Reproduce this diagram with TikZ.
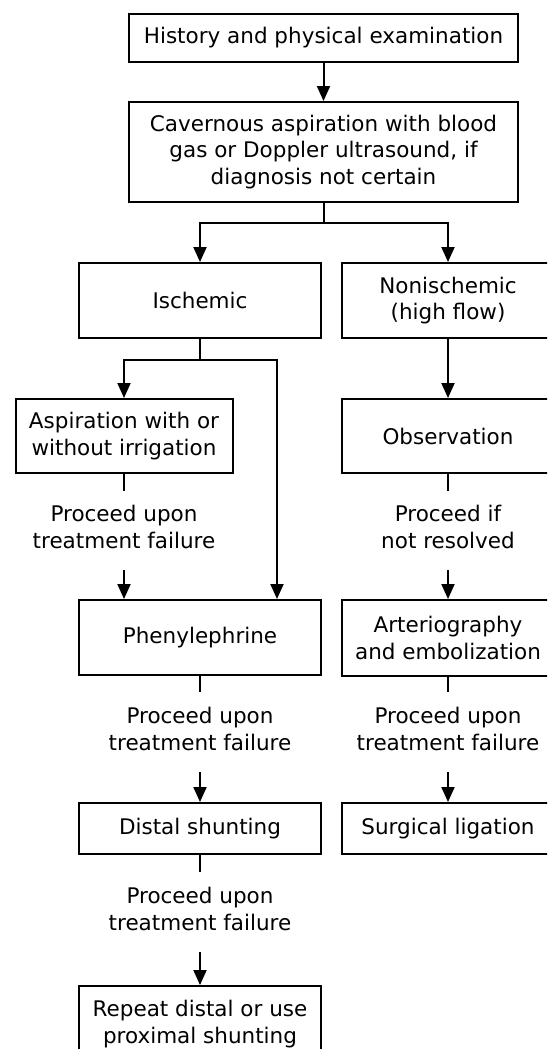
\documentclass[tikz,border=0pt]{standalone}
\usepackage{fontspec}
\setmainfont{DejaVu Sans}
\usepackage{tikz}
\usetikzlibrary{arrows.meta}

\begin{document}
\begin{tikzpicture}[x=1pt,y=-1pt,
	box/.style={draw, line width=2pt, align=center, inner sep=2pt, font=\fontsize{21.5}{26.5}\selectfont},
	note/.style={align=center, inner sep=0pt, font=\fontsize{21.5}{26.5}\selectfont},
	lin/.style={line width=2pt},
	arr/.style={line width=2pt, -{Triangle[length=15pt,width=13pt]}}]
	\useasboundingbox (0,0) rectangle (547,1049);
	\clip (0,0) rectangle (547,1049);
	
	\def\xm{323.5} % top column
	\def\xl{200} % ischemic column
	\def\xa{124} % aspiration column
	\def\xr{448} % nonischemic column
	
	% top boxes
	\coordinate (H) at (\xm,38);
	\coordinate (C) at (\xm,152);
	\node[box, minimum width=389pt, minimum height=48pt] (hist) at (H) {History and physical examination};
	\node[box, minimum width=389pt, minimum height=100pt] (cav) at (C) {Cavernous aspiration with blood\\gas or Doppler ultrasound, if\\diagnosis not certain};
	
	% second row
	\node[box, minimum width=242pt, minimum height=75pt] (isch) at (\xl,300.5) {Ischemic};
	\node[box, minimum width=212pt, minimum height=75pt] (nonisch) at (\xr,300.5) {Nonischemic\\(high flow)};
	
	% third row
	\node[box, minimum width=217pt, minimum height=74pt] (asp) at (\xa,436) {Aspiration with or\\without irrigation};
	\node[box, minimum width=212pt, minimum height=74pt] (obs) at (\xr,436) {Observation};
	\node[note] (fail1) at (\xa,527) {Proceed upon\\treatment failure};
	\node[note] (ifnot) at (\xr,527) {Proceed if\\not resolved};
	
	% fourth row
	\node[box, minimum width=242pt, minimum height=75pt] (phen) at (\xl,637.5) {Phenylephrine};
	\node[box, minimum width=212pt, minimum height=76pt] (arter) at (\xr,638) {Arteriography\\and embolization};
	\node[note] (fail2) at (\xl,729) {Proceed upon\\treatment failure};
	\node[note] (fail3) at (\xr,729) {Proceed upon\\treatment failure};
	
	% fifth row
	\node[box, minimum width=242pt, minimum height=51pt] (distal) at (\xl,828.5) {Distal shunting};
	\node[box, minimum width=212pt, minimum height=51pt] (ligat) at (\xr,828.5) {Surgical ligation};
	\node[note] (fail4) at (\xl,909) {Proceed upon\\treatment failure};
	\node[box, minimum width=242pt, minimum height=76pt] (repeat) at (\xl,1024) {Repeat distal or use\\proximal shunting};
	
	% split below cavernous aspiration
	\coordinate (split1) at (\xm,223);
	\draw[arr] (hist) -- (cav);
	\draw[lin] (cav.south) -- (split1);
	\draw[arr] (split1) -| (isch.north);
	\draw[arr] (split1) -| (nonisch.north);
	
	% split below ischemic
	\coordinate (split2) at (\xl,360);
	\coordinate (bypass) at (277,360);
	\draw[lin] (isch.south) -- (split2);
	\draw[arr] (split2) -| (asp.north);
	\draw[arr] (split2) -- (bypass) -- (bypass |- phen.north);
	\draw[arr] (nonisch) -- (obs);
	
	% stubs and arrows around the notes
	\draw[lin] (asp.south) -- ++(0,17);
	\draw[arr] ([yshift=-21pt]fail1.south) -- (fail1.south |- phen.north);
	\draw[lin] (obs.south) -- ++(0,17);
	\draw[arr] ([yshift=-21pt]ifnot.south) -- (arter.north);
	\draw[lin] (phen.south) -- ++(0,16);
	\draw[arr] ([yshift=-21pt]fail2.south) -- (distal.north);
	\draw[lin] (arter.south) -- ++(0,15);
	\draw[arr] ([yshift=-21pt]fail3.south) -- (ligat.north);
	\draw[lin] (distal.south) -- ++(0,17);
	\draw[arr] ([yshift=-21pt]fail4.south) -- (repeat.north);
\end{tikzpicture}
\end{document}
